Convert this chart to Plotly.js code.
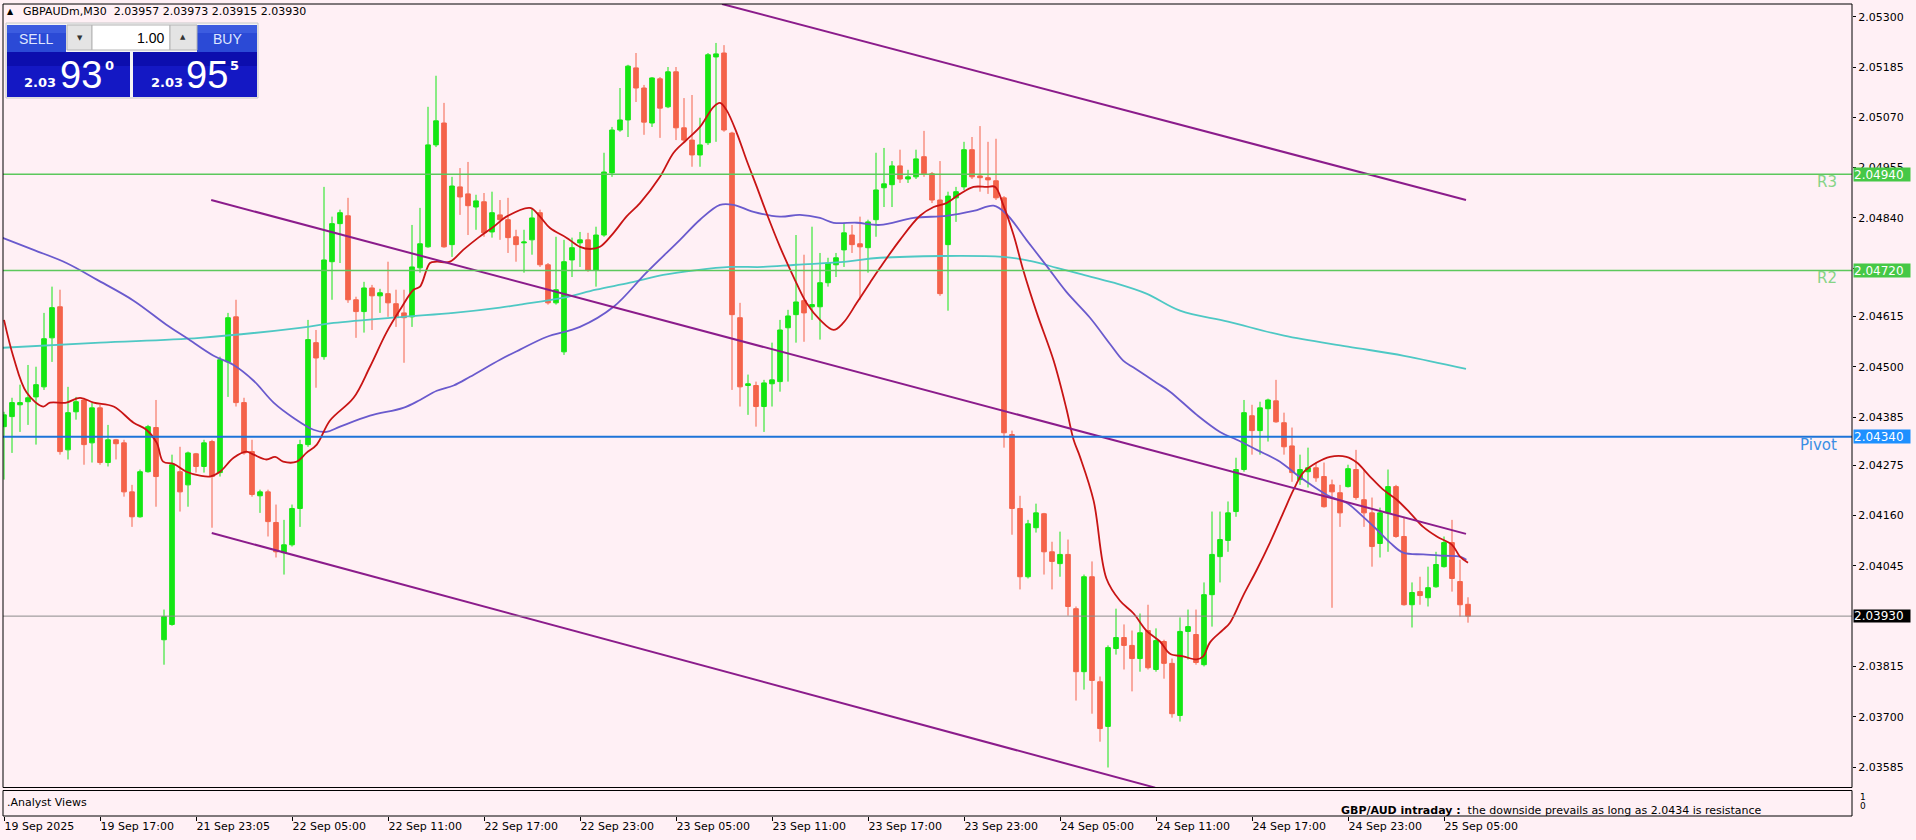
<!DOCTYPE html>
<html>
<head>
<meta charset="utf-8">
<script src="https://cdn.plot.ly/plotly-3.0.1.min.js"></script>
<style>
html,body{margin:0;padding:0;background:#fff0f5;overflow:hidden;}
#chart{width:1916px;height:840px;}
</style>
</head>
<body>
<div id="chart"></div>
<script>
// ================= DATA =================
const symbolHeader = "GBPAUDm,M30\u00a0\u00a02.03957 2.03973 2.03915 2.03930";
const timeTickBars = [0,12,24,36,48,60,72,84,96,108,120,132,144,156,168,180];
const timeTickLabels = ["19 Sep 2025","19 Sep 17:00","21 Sep 23:05","22 Sep 05:00","22 Sep 11:00","22 Sep 17:00","22 Sep 23:00","23 Sep 05:00","23 Sep 11:00","23 Sep 17:00","23 Sep 23:00","24 Sep 05:00","24 Sep 11:00","24 Sep 17:00","24 Sep 23:00","25 Sep 05:00"];
// the 2.03930 axis label sits under the last-price box and is drawn by that box
const priceTicks = [2.05300,2.05185,2.05070,2.04955,2.04840,2.04725,2.04615,2.04500,2.04385,2.04275,2.04160,2.04045,2.03815,2.03700,2.03585];
const priceTickLabels = ["2.05300","2.05185","2.05070","2.04955","2.04840","2.04725","2.04615","2.04500","2.04385","2.04275","2.04160","2.04045","2.03815","2.03700","2.03585"];

const openP = [2.04363,2.04386,2.04413,2.04420,2.04431,2.04454,2.04566,2.04637,2.04310,2.04397,
2.04424,2.04326,2.04406,2.04281,2.04333,2.04326,2.04214,2.04157,2.04260,2.04361,
2.03876,2.03911,2.04260,2.04230,2.04301,2.04272,2.04329,2.04258,2.04511,2.04614,
2.04418,2.04306,2.04205,2.04214,2.04144,2.04075,2.04093,2.04176,2.04322,2.04555,
2.04523,2.04740,2.04827,2.04845,2.04653,2.04626,2.04680,2.04662,2.04667,2.04644,
2.04623,2.04614,2.04726,2.04774,2.05007,2.05057,2.04779,2.04911,2.04895,2.04865,
2.04877,2.04808,2.04847,2.04836,2.04797,2.04783,2.04790,2.04852,2.04733,2.04646,
2.04534,2.04744,2.04783,2.04790,2.04721,2.04801,2.04943,2.05041,2.05064,2.05183,
2.05137,2.05057,2.05158,2.05094,2.05174,2.05046,2.05018,2.04984,2.05012,2.05208,
2.05217,2.05034,2.04612,2.04457,2.04457,2.04409,2.04461,2.04466,2.04589,2.04619,
2.04651,2.04637,2.04637,2.04692,2.04733,2.04767,2.04801,2.04781,2.04772,2.04836,
2.04909,2.04916,2.04959,2.04929,2.04934,2.04980,2.04941,2.04881,2.04779,2.04886,
2.04911,2.04996,2.04936,2.04932,2.04925,2.04886,2.04345,2.04176,2.04020,2.04132,
2.04164,2.04077,2.04050,2.04071,2.03947,2.03803,2.04020,2.03780,2.03678,2.03856,
2.03881,2.03863,2.03833,2.03897,2.03808,2.03872,2.03822,2.03703,2.03895,2.03888,
2.03819,2.03979,2.04066,2.04103,2.04169,2.04265,2.04388,2.04354,2.04404,2.04422,
2.04372,2.04319,2.04242,2.04260,2.04269,2.04249,2.04230,2.04212,2.04226,2.04265,
2.04196,2.04166,2.04096,2.04166,2.04226,2.04112,2.03956,2.03986,2.03972,2.03997,
2.04043,2.04098,2.04009,2.03957];

const highP = [2.04397,2.04429,2.04459,2.04504,2.04500,2.04623,2.04683,2.04676,2.04454,2.04431,
2.04429,2.04418,2.04413,2.04367,2.04335,2.04333,2.04230,2.04265,2.04367,2.04424,
2.03945,2.04299,2.04317,2.04306,2.04303,2.04333,2.04333,2.04523,2.04623,2.04653,
2.04429,2.04333,2.04219,2.04219,2.04185,2.04150,2.04185,2.04333,2.04607,2.04584,
2.04911,2.04843,2.04859,2.04886,2.04660,2.04694,2.04687,2.04678,2.04740,2.04676,
2.04676,2.04824,2.04863,2.05094,2.05165,2.05103,2.04934,2.04954,2.04968,2.04893,
2.04897,2.04900,2.04881,2.04886,2.04813,2.04813,2.04863,2.04859,2.04737,2.04797,
2.04790,2.04795,2.04808,2.04806,2.04820,2.04989,2.05048,2.05137,2.05190,2.05217,
2.05144,2.05162,2.05162,2.05185,2.05185,2.05114,2.05121,2.05069,2.05217,2.05240,
2.05235,2.05037,2.04646,2.04482,2.04466,2.04470,2.04555,2.04607,2.04630,2.04801,
2.04756,2.04820,2.04760,2.04749,2.04760,2.04829,2.04824,2.04843,2.04836,2.04989,
2.05000,2.04970,2.04996,2.04950,2.04996,2.05039,2.04945,2.04970,2.04900,2.04911,
2.05014,2.05025,2.05050,2.05014,2.05021,2.04890,2.04354,2.04205,2.04150,2.04187,
2.04166,2.04100,2.04123,2.04105,2.03952,2.04025,2.04055,2.03792,2.03863,2.03947,
2.03911,2.03897,2.03936,2.03956,2.03902,2.03876,2.03833,2.03927,2.03945,2.03945,
2.04007,2.04169,2.04169,2.04192,2.04292,2.04424,2.04413,2.04420,2.04427,2.04470,
2.04395,2.04361,2.04299,2.04315,2.04281,2.04281,2.04242,2.04230,2.04276,2.04310,
2.04265,2.04201,2.04178,2.04265,2.04230,2.04157,2.04007,2.04020,2.04043,2.04077,
2.04112,2.04150,2.04059,2.03973];

const lowP = [2.04242,2.04303,2.04351,2.04367,2.04322,2.04447,2.04511,2.04299,2.04288,2.04379,
2.04276,2.04281,2.04276,2.04272,2.04288,2.04203,2.04134,2.04155,2.04258,2.04180,
2.03819,2.03908,2.04169,2.04180,2.04258,2.04258,2.04132,2.04249,2.04431,2.04409,
2.04299,2.04203,2.04166,2.04112,2.04064,2.04025,2.04089,2.04134,2.04317,2.04452,
2.04516,2.04653,2.04737,2.04646,2.04566,2.04578,2.04584,2.04623,2.04614,2.04591,
2.04509,2.04591,2.04715,2.04772,2.05002,2.04772,2.04751,2.04847,2.04801,2.04813,
2.04797,2.04795,2.04790,2.04760,2.04740,2.04715,2.04756,2.04728,2.04642,2.04642,
2.04527,2.04705,2.04728,2.04717,2.04683,2.04797,2.04934,2.05037,2.05025,2.05105,
2.05030,2.05048,2.05023,2.05091,2.05018,2.05014,2.04957,2.04957,2.05007,2.05014,
2.05037,2.04447,2.04409,2.04390,2.04363,2.04351,2.04409,2.04443,2.04466,2.04555,
2.04557,2.04607,2.04562,2.04683,2.04705,2.04728,2.04760,2.04653,2.04715,2.04797,
2.04865,2.04865,2.04920,2.04920,2.04929,2.04934,2.04874,2.04662,2.04628,2.04831,
2.04904,2.04929,2.04900,2.04895,2.04881,2.04315,2.04116,2.03991,2.04016,2.04121,
2.04025,2.03991,2.04020,2.03931,2.03737,2.03762,2.03707,2.03643,2.03584,2.03842,
2.03808,2.03758,2.03803,2.03808,2.03803,2.03787,2.03698,2.03689,2.03831,2.03819,
2.03815,2.03906,2.04007,2.04077,2.04157,2.04260,2.04299,2.04299,2.04329,2.04372,
2.04299,2.04237,2.04230,2.04224,2.04237,2.04178,2.03949,2.04134,2.04224,2.04196,
2.04134,2.04043,2.04064,2.04077,2.04109,2.03954,2.03904,2.03956,2.03952,2.03995,
2.04041,2.03986,2.03929,2.03915];

const closeP = [2.04390,2.04418,2.04418,2.04429,2.04459,2.04564,2.04635,2.04306,2.04395,2.04420,
2.04322,2.04406,2.04281,2.04333,2.04324,2.04214,2.04157,2.04260,2.04363,2.04249,
2.03929,2.04276,2.04214,2.04303,2.04272,2.04326,2.04249,2.04516,2.04612,2.04418,
2.04303,2.04208,2.04214,2.04146,2.04077,2.04093,2.04176,2.04322,2.04562,2.04520,
2.04744,2.04827,2.04852,2.04653,2.04626,2.04680,2.04662,2.04669,2.04646,2.04614,
2.04612,2.04728,2.04781,2.05007,2.05062,2.04774,2.04913,2.04888,2.04868,2.04879,
2.04806,2.04852,2.04836,2.04795,2.04779,2.04785,2.04840,2.04733,2.04646,2.04676,
2.04740,2.04772,2.04790,2.04721,2.04801,2.04945,2.05041,2.05064,2.05187,2.05137,
2.05059,2.05160,2.05091,2.05174,2.05046,2.05018,2.04984,2.05007,2.05213,2.05215,
2.05041,2.04619,2.04454,2.04461,2.04409,2.04463,2.04470,2.04584,2.04616,2.04648,
2.04623,2.04642,2.04692,2.04737,2.04749,2.04806,2.04779,2.04774,2.04831,2.04904,
2.04918,2.04959,2.04929,2.04934,2.04975,2.04941,2.04881,2.04667,2.04890,2.04900,
2.04996,2.04934,2.04932,2.04927,2.04886,2.04349,2.04176,2.04020,2.04141,2.04166,
2.04077,2.04055,2.04071,2.03952,2.03803,2.04020,2.03783,2.03673,2.03858,2.03881,
2.03863,2.03833,2.03892,2.03812,2.03874,2.03822,2.03707,2.03895,2.03906,2.03824,
2.03979,2.04071,2.04105,2.04166,2.04265,2.04395,2.04354,2.04406,2.04424,2.04374,
2.04317,2.04258,2.04265,2.04269,2.04246,2.04180,2.04214,2.04166,2.04267,2.04201,
2.04166,2.04089,2.04166,2.04226,2.04112,2.03956,2.03984,2.03977,2.03995,2.04048,
2.04098,2.04016,2.03956,2.03930];

// moving averages (bar position, price)
const maFastX = [0,1.17,2.83,4.9,5.75,7.8,9.5,11.2,13.7,16.2,17.8,19.1,19.9,21.2,22.8,24.5,25.75,27,28.7,30.3,31.2,32.8,33.9,34.9,36.6,37.8,39.1,40.75,43.7,45.75,47.8,49.5,51.2,52,53.25,54.1,55.75,57.4,59.3,61.2,62.8,65.75,67,68.25,70.3,72,73.25,74.5,76.2,77.8,79.5,82,83.7,85.3,87,88.7,89.5,90.3,91.6,92.8,94.1,95.3,97,98.7,100.3,102,103.7,104.9,106.6,108.25,109.5,112,114.5,116.2,117.8,119.5,121.2,122.8,123.9,124.9,126.2,127.4,129.1,131.2,132.8,133.7,134.5,136.2,137.8,139.5,141.2,142.8,144.5,145.75,147.4,149.1,149.9,150.75,152.4,153.25,154.9,156.6,158.25,159.9,161.2,162.4,164.1,165.75,167.8,169.1,170.75,172.4,174.1,175.75,177.4,179.1,181,182,183];
const maFastY = [2.04607,2.04523,2.04441,2.04409,2.04418,2.04418,2.04429,2.04418,2.04409,2.04372,2.04356,2.04326,2.04283,2.04278,2.04260,2.04251,2.04249,2.04260,2.04292,2.04306,2.04299,2.04288,2.04294,2.04283,2.04283,2.04303,2.04322,2.04377,2.04429,2.04500,2.04578,2.04630,2.04676,2.04683,2.04737,2.04740,2.04740,2.04767,2.04795,2.04820,2.04843,2.04863,2.04843,2.04817,2.04795,2.04774,2.04769,2.04774,2.04806,2.04843,2.04874,2.04934,2.04989,2.05018,2.05048,2.05094,2.05103,2.05087,2.05034,2.04973,2.04911,2.04852,2.04774,2.04705,2.04646,2.04607,2.04584,2.04600,2.04646,2.04692,2.04726,2.04790,2.04845,2.04865,2.04874,2.04895,2.04911,2.04911,2.04911,2.04870,2.04801,2.04721,2.04623,2.04514,2.04404,2.04333,2.04294,2.04194,2.04016,2.03965,2.03936,2.03897,2.03872,2.03844,2.03838,2.03831,2.03838,2.03870,2.03899,2.03915,2.03977,2.04036,2.04098,2.04166,2.04219,2.04258,2.04281,2.04294,2.04294,2.04281,2.04249,2.04219,2.04196,2.04166,2.04134,2.04112,2.04093,2.04066,2.04052];

const maMidX = [-0.5,3.7,7.8,11.6,16.2,20.3,22.8,26.2,28.7,31.2,33.7,36.2,38.7,40.3,42,45.75,49.9,52,54.1,56.2,58.25,62,64.5,67.8,72,76.2,80.3,84.5,87,89.5,91.2,93.7,97,99.5,102,103.7,106.6,109.5,113.7,117.8,121.2,123.7,125.3,127.8,130.3,132.8,135.75,138.25,139.9,141.2,144.1,145.75,149.1,152,154.1,156.6,159.5,161.6,163.7,165.75,167.8,169.9,171.6,173.25,174.9,177.4,180,182,182.8];
const maMidY = [2.04797,2.04767,2.04737,2.04699,2.04651,2.04596,2.04566,2.04525,2.04504,2.04468,2.04418,2.04383,2.04356,2.04351,2.04363,2.04388,2.04406,2.04424,2.04445,2.04457,2.04477,2.04516,2.04539,2.04568,2.04591,2.04637,2.04715,2.04790,2.04836,2.04870,2.04870,2.04854,2.04843,2.04847,2.04840,2.04829,2.04829,2.04824,2.04840,2.04845,2.04856,2.04868,2.04849,2.04790,2.04731,2.04671,2.04612,2.04552,2.04514,2.04498,2.04463,2.04443,2.04390,2.04351,2.04333,2.04310,2.04283,2.04253,2.04226,2.04203,2.04189,2.04157,2.04128,2.04098,2.04075,2.04071,2.04068,2.04066,2.04059];

const maSlowX = [-0.5,12,24.5,37,41.2,49.9,56.2,62,64.5,70,74,78.25,82.4,86.6,90.75,94.9,99,105.3,109.5,124.9,128.25,131.6,134.5,138.7,142.8,147,153,160,168,175,182.75];
const maSlowY = [2.04543,2.04555,2.04566,2.04589,2.04600,2.04614,2.04623,2.04635,2.04642,2.04658,2.04676,2.04692,2.04710,2.04721,2.04728,2.04728,2.04733,2.04740,2.04749,2.04751,2.04742,2.04726,2.04712,2.04692,2.04667,2.04628,2.04603,2.04571,2.04546,2.04525,2.04495];

// trend channel (bar position, price)
const channelUpperX = [89.75, 182.75];
const channelUpperY = [2.05329, 2.04881];
const channelMidX = [25.9, 182.75];
const channelMidY = [2.04881, 2.04118];
const channelLowX = [25.97, 143.9];
const channelLowY = [2.04120, 2.03538];

// horizontal levels
const levelNames = ["R3", "R2", "Pivot"];
const levelPrices = [2.0494, 2.0472, 2.0434];
const levelLabels = ["2.04940", "2.04720", "2.04340"];
const lastPrice = 2.0393;
const lastPriceLabel = "2.03930";

const analystTitle = "GBP/AUD intraday :";
const analystText = "the downside prevails as long as 2.0434 is resistance";
const lotSize = "1.00";
const bidBig = ["2.03", "93", "0"];
const askBig = ["2.03", "95", "5"];

// ================= DRAWING =================
const BG = '#fff0f5';
const GREEN = '#14e614';
const RED = '#f4634a';
const FONT = 'DejaVu Sans, sans-serif';
const W = 1916, H = 840, ML = 3, MR = 64, MT = 4, MB = 24;
const PW = W - ML - MR, PH = H - MT - MB;
const PX = px => (px - ML) / PW;
const PY = py => (H - MB - py) / PH;

const barIndex = openP.map((_, i) => i);

const traces = [
  {type:'candlestick', x:barIndex, open:openP, high:highP, low:lowP, close:closeP,
   increasing:{line:{color:GREEN, width:1}, fillcolor:GREEN},
   decreasing:{line:{color:RED, width:1}, fillcolor:RED},
   whiskerwidth:0, hoverinfo:'skip', showlegend:false, xaxis:'x', yaxis:'y'},
  {type:'scatter', mode:'lines', x:maSlowX, y:maSlowY, line:{color:'#4ec8c4', width:1.8, shape:'spline'}, hoverinfo:'skip', xaxis:'x', yaxis:'y'},
  {type:'scatter', mode:'lines', x:maMidX, y:maMidY, line:{color:'#6a5acd', width:1.8, shape:'spline'}, hoverinfo:'skip', xaxis:'x', yaxis:'y'},
  {type:'scatter', mode:'lines', x:maFastX, y:maFastY, line:{color:'#c81414', width:1.8, shape:'spline'}, hoverinfo:'skip', xaxis:'x', yaxis:'y'},
  {type:'scatter', mode:'lines', x:channelUpperX, y:channelUpperY, line:{color:'#8b1c8b', width:2}, hoverinfo:'skip', xaxis:'x', yaxis:'y'},
  {type:'scatter', mode:'lines', x:channelMidX, y:channelMidY, line:{color:'#8b1c8b', width:2}, hoverinfo:'skip', xaxis:'x', yaxis:'y'},
  {type:'scatter', mode:'lines', x:channelLowX, y:channelLowY, line:{color:'#8b1c8b', width:2}, hoverinfo:'skip', xaxis:'x', yaxis:'y'},
  {type:'scatter', mode:'lines', x:[], y:[], xaxis:'x', yaxis:'y2', hoverinfo:'skip'}
];

const levelColors = ['#5cc85c', '#5cc85c', '#1e74d8'];
const levelBoxColors = ['#46c846', '#46c846', '#1e90ff'];
const levelTextColors = ['#86d486', '#86d486', '#3a8ee4'];

const shapes = [];
const annotations = [];

// level lines
levelPrices.forEach((p, i) => {
  shapes.push({type:'line', xref:'paper', x0:0, x1:1, yref:'y', y0:p, y1:p,
    line:{color:levelColors[i], width: i === 2 ? 2 : 1.6}, layer:'above'});
  annotations.push({xref:'paper', x:1, xanchor:'left', xshift:1, yref:'y', y:p, yanchor:'middle',
    text:levelLabels[i], showarrow:false, bgcolor:levelBoxColors[i], borderpad:0,
    width:56, height:13, align:'left', font:{family:FONT, size:12, color:'#ffffff'}});
  annotations.push({xref:'paper', x:PX(1839), xanchor:'right', yref:'y', y:p, yanchor:'middle', yshift:-8,
    text:levelNames[i], showarrow:false, font:{family:FONT, size:15, color:levelTextColors[i]}});
});
// last price line
shapes.push({type:'line', xref:'paper', x0:0, x1:1, yref:'y', y0:lastPrice, y1:lastPrice,
  line:{color:'#8c8c8c', width:1}, layer:'above'});
annotations.push({xref:'paper', x:1, xanchor:'left', xshift:1, yref:'y', y:lastPrice, yanchor:'middle',
  text:lastPriceLabel, showarrow:false, bgcolor:'#000000', borderpad:0,
  width:56, height:12, align:'left', font:{family:FONT, size:12, color:'#ffffff'}});

// frames: main window and indicator window
const mainTop = 1, mainBot = PY(787.5);
const subTop = PY(790.5), subBot = 0;
shapes.push({type:'rect', xref:'paper', yref:'paper', x0:0, x1:1, y0:mainBot, y1:mainTop, line:{color:'#000', width:1}, layer:'above'});
shapes.push({type:'rect', xref:'paper', yref:'paper', x0:0, x1:1, y0:subBot, y1:subTop, line:{color:'#000', width:1}, layer:'above'});

// trading panel
function rect(x0, y0, x1, y1, fill, lineColor) {
  shapes.push({type:'rect', xref:'paper', yref:'paper', x0:PX(x0), x1:PX(x1), y0:PY(y1), y1:PY(y0),
    fillcolor:fill, line:{color:lineColor || fill, width: lineColor ? 1 : 0}, layer:'above'});
}
function txt(x, y, text, size, color, anchor, bold, family) {
  annotations.push({xref:'paper', yref:'paper', x:PX(x), y:PY(y), xanchor:anchor || 'center', yanchor:'middle',
    text: bold ? '<b>' + text + '</b>' : text, showarrow:false,
    font:{family: family || FONT, size:size, color:color}});
}
rect(6, 23, 258, 98, '#f4f4f4', '#c8c8c8');
rect(7, 25, 66, 52, '#2b4ad6');
rect(7, 25, 66, 33, '#3c5ce0');
rect(197, 25, 257, 52, '#2b4ad6');
rect(197, 25, 257, 33, '#3c5ce0');
rect(67, 25, 92, 50, '#e4e4e4', '#b4b4b4');
rect(92, 25, 170, 50, '#ffffff', '#b4b4b4');
rect(170, 25, 197, 50, '#e4e4e4', '#b4b4b4');
rect(7, 52, 130, 97, '#1418c4');
rect(7, 52, 130, 66, '#0c0eae');
rect(133, 52, 257, 97, '#1418c4');
rect(133, 52, 257, 66, '#0c0eae');
txt(36, 39, 'SELL', 14, '#dfe6ff', 'center', false, 'Liberation Sans, sans-serif');
txt(227, 39, 'BUY', 14, '#dfe6ff', 'center', false, 'Liberation Sans, sans-serif');
txt(80, 38, '\u25BC', 7, '#333333');
txt(183, 37, '\u25B2', 7, '#333333');
txt(166, 38, lotSize, 14, '#000000', 'right', false, 'Liberation Sans, sans-serif');
txt(40, 83, bidBig[0], 13, '#ffffff', 'center', true);
txt(81, 75, bidBig[1], 38, '#ffffff', 'center', false, 'Liberation Sans, sans-serif');
txt(109, 66, bidBig[2], 13, '#ffffff', 'center', true);
txt(167, 83, askBig[0], 13, '#ffffff', 'center', true);
txt(207, 75, askBig[1], 38, '#ffffff', 'center', false, 'Liberation Sans, sans-serif');
txt(235, 66, askBig[2], 13, '#ffffff', 'center', true);

// header
txt(10, 12, '\u25B2', 8, '#000000');
txt(21, 12, symbolHeader, 11, '#000000', 'left');

// indicator window texts
txt(5, 802, '.Analyst Views', 11, '#000000', 'left');
txt(1339, 810, '<b>' + analystTitle + '</b>\u00a0\u00a0' + analystText, 11, '#000000', 'left');
txt(1858, 797, '1', 9, '#000000', 'left');
txt(1858, 806, '0', 9, '#000000', 'left');

const layout = {
  width: W, height: H,
  margin: {l:ML, r:MR, t:MT, b:MB, pad:0},
  paper_bgcolor: BG, plot_bgcolor: BG,
  showlegend: false,
  boxgap: 0.42, boxgroupgap: 0,
  font: {family: FONT, size: 11, color: '#000'},
  xaxis: {
    range: [-0.125, 231], anchor: 'y2', type: 'linear',
    tickmode: 'array', tickvals: timeTickBars, ticktext: timeTickLabels,
    ticks: 'outside', ticklen: 4, tickcolor: '#000', tickwidth: 1,
    ticklabelposition: 'outside right',
    tickfont: {family: FONT, size: 11, color: '#000'},
    showgrid: false, zeroline: false, showline: false,
    rangeslider: {visible: false}, fixedrange: true
  },
  yaxis: {
    domain: [mainBot, mainTop], range: [2.0353831, 2.0532899], anchor: 'x', side: 'right',
    tickmode: 'array', tickvals: priceTicks, ticktext: priceTickLabels,
    ticks: 'outside', ticklen: 3, tickcolor: '#000',
    tickfont: {family: FONT, size: 11, color: '#000'},
    showgrid: false, zeroline: false, showline: false, fixedrange: true
  },
  yaxis2: {
    domain: [subBot, subTop], range: [0, 1], anchor: 'x',
    showticklabels: false, showgrid: false, zeroline: false, ticks: '', fixedrange: true
  },
  shapes: shapes,
  annotations: annotations
};

Plotly.newPlot('chart', traces, layout, {displayModeBar: false, staticPlot: true});
</script>
</body>
</html>
